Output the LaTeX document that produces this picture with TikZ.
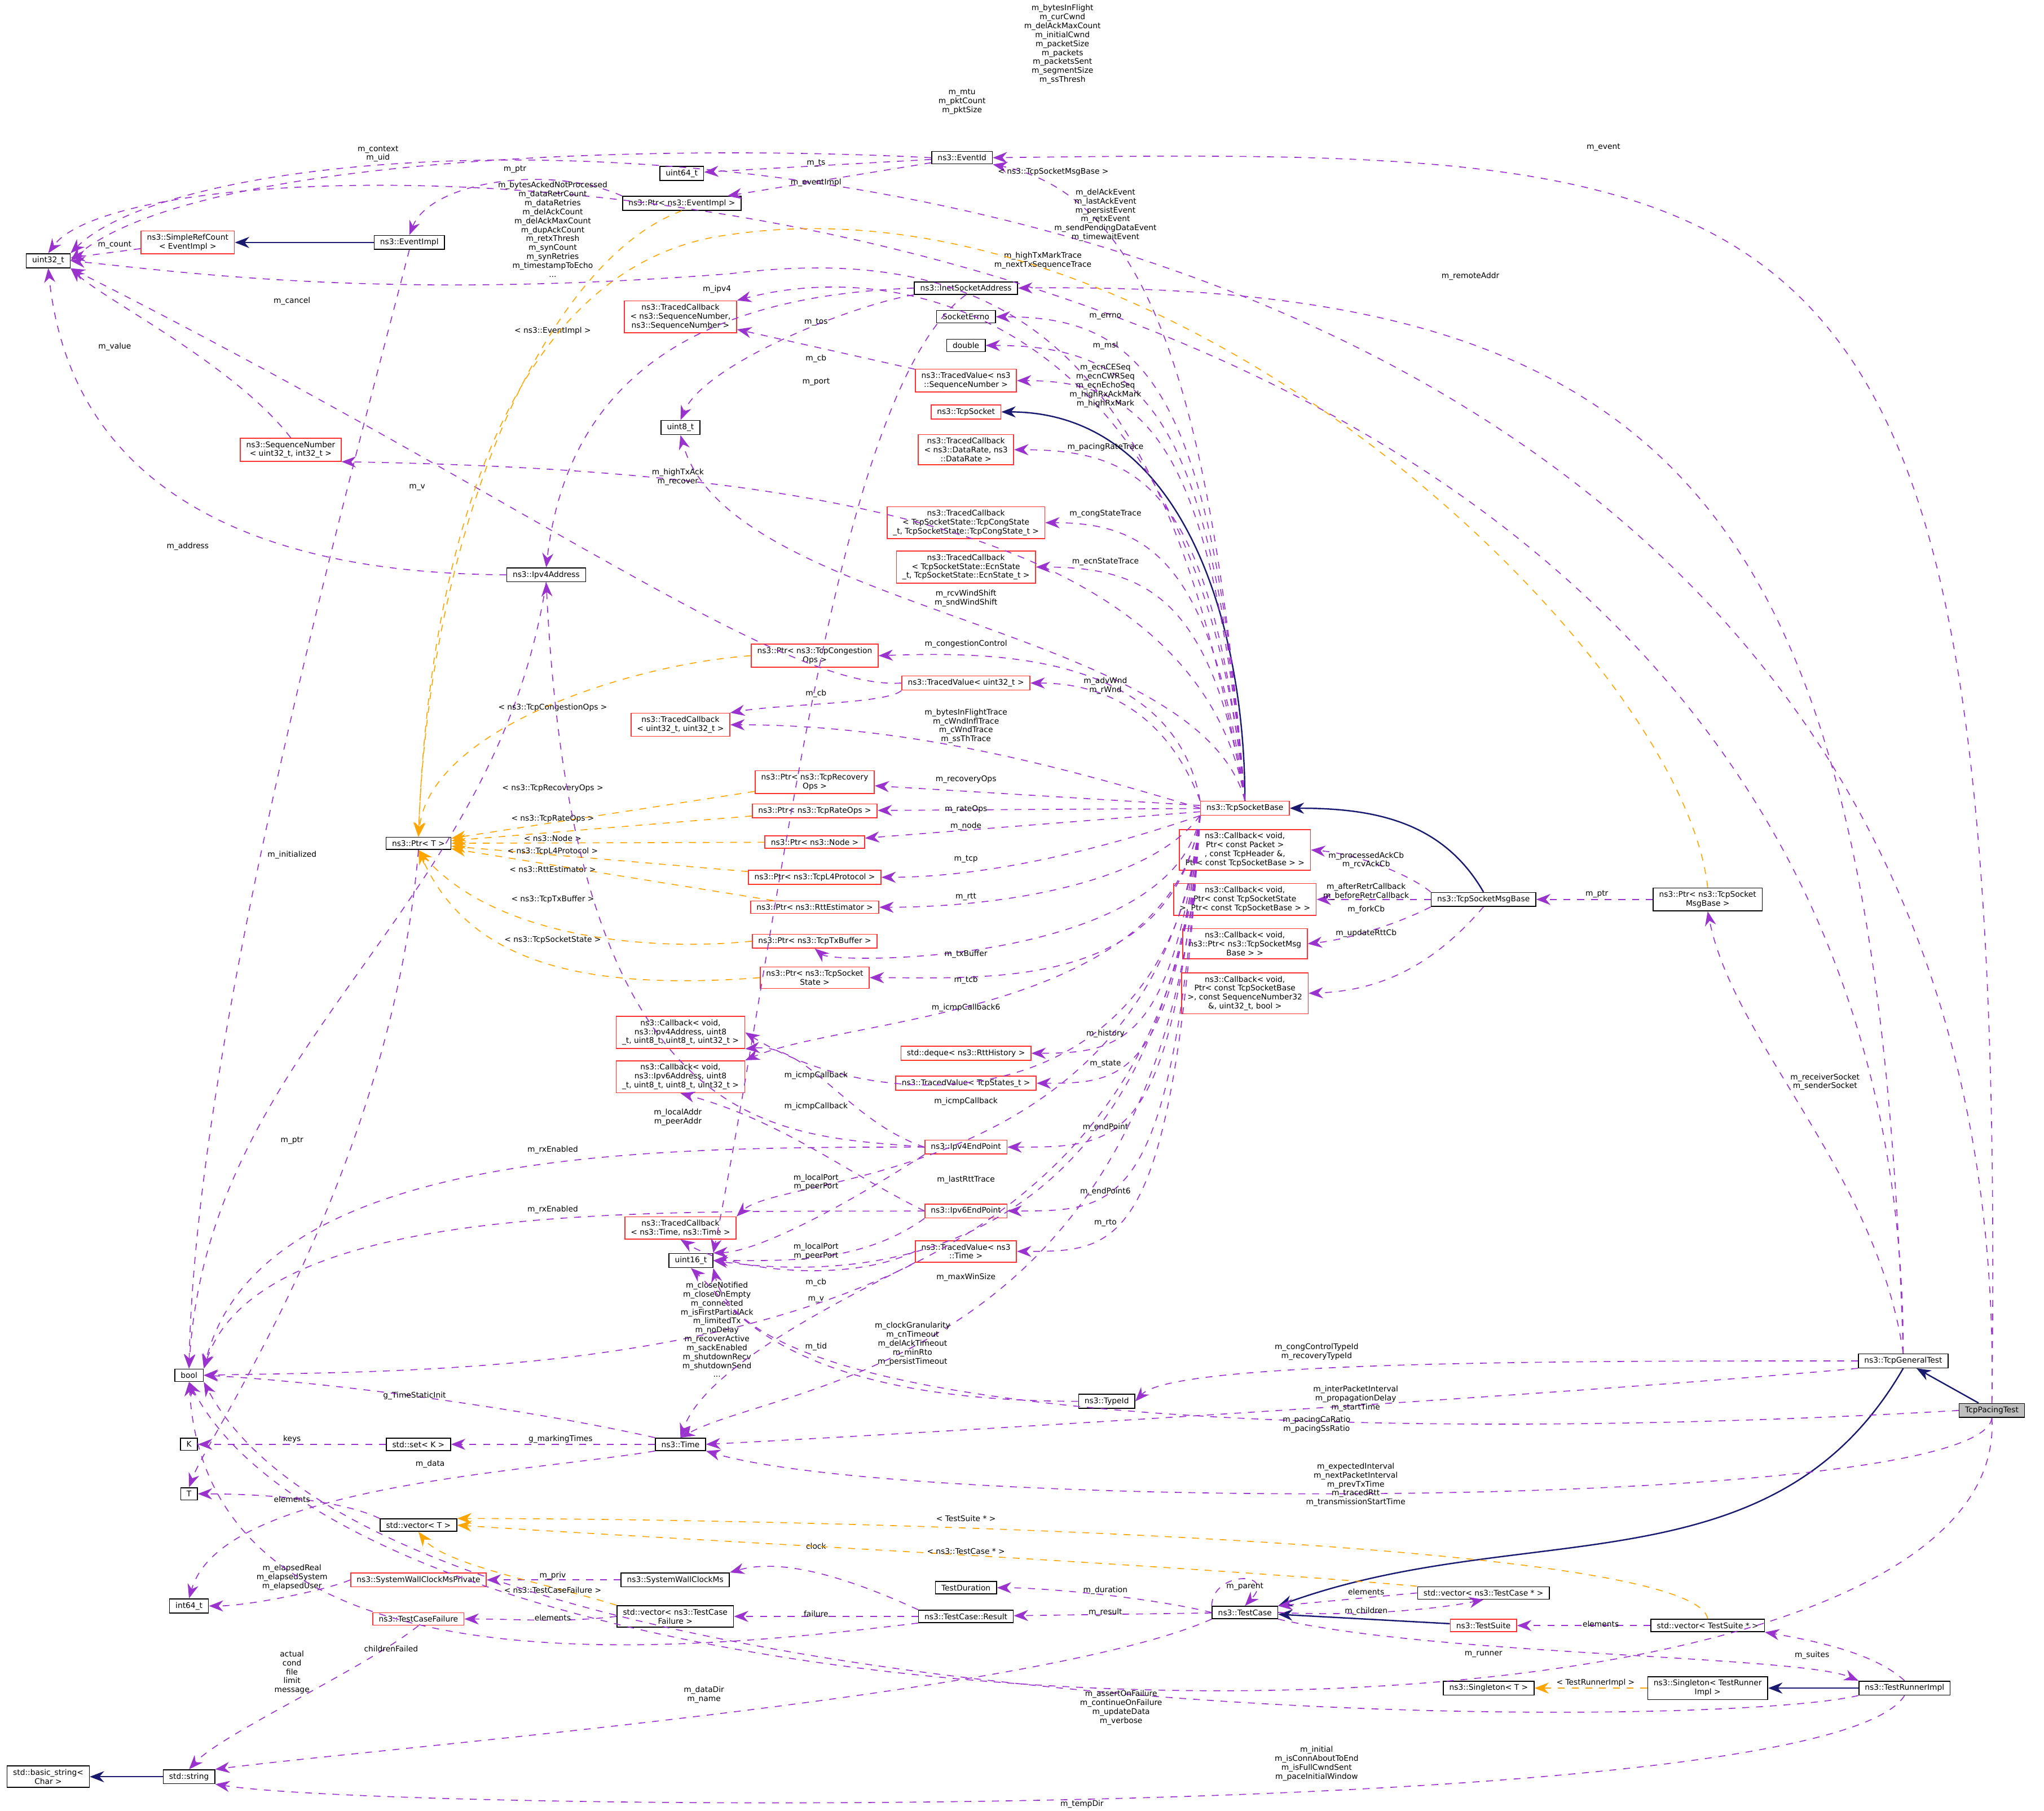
\documentclass[tikz,border=0pt]{standalone}
\usepackage{fontspec}
\setmainfont{DejaVu Sans}
\usetikzlibrary{arrows.meta,positioning}
\definecolor{memc}{HTML}{9A32CD}
\definecolor{tplc}{HTML}{FFA500}
\definecolor{inhc}{HTML}{191970}
\definecolor{redb}{HTML}{FF3030}
\tikzset{
  cls/.style={draw=black,fill=white,align=center,inner xsep=2.6pt,inner ysep=1.4pt,font=\fontsize{3.4}{3.9}\selectfont},
  clsr/.style={cls,draw=redb},
  lbl/.style={align=center,inner sep=0pt,font=\fontsize{3.4}{3.9}\selectfont},
  mem/.style={-{Stealth[length=2.2mm,width=1.7mm]},dashed,draw=memc,thin},
  tpl/.style={-{Stealth[length=2.2mm,width=1.7mm]},dashed,draw=tplc,thin},
  inh/.style={-{Stealth[length=2.2mm,width=1.7mm]},draw=inhc,semithick}
}
\begin{document}
\begin{tikzpicture}[x=0.02cm,y=-0.02cm]
\useasboundingbox (0,0) rectangle (1568,1389);

% left column
\node (uint32) [cls] at (37,200) {uint32\_t};
\node (srefc) [clsr] at (144,186) {ns3::SimpleRefCount\\< EventImpl >};
\node (eimpl) [cls] at (314,186) {ns3::EventImpl};
\node (seqn) [clsr] at (223,345) {ns3::SequenceNumber\\< uint32\_t, int32\_t >};
\node (ipv4a) [cls] at (419,441) {ns3::Ipv4Address};
\node (ptrt) [cls] at (321,647) {ns3::Ptr< T >};
\node (bool) [cls] at (145,1055) {bool};
\node (kk) [cls] at (145,1108) {K};
\node (setk) [cls] at (321,1108) {std::set< K >};
\node (tt) [cls] at (145,1146) {T};
\node (vect) [cls] at (321,1170) {std::vector< T >};
\node (int64) [cls] at (145,1232) {int64\_t};
\node (swcp) [clsr] at (321,1212) {ns3::SystemWallClockMsPrivate};
\node (tcf) [clsr] at (321,1242) {ns3::TestCaseFailure};
\node (bstr) [cls] at (37,1363) {std::basic\_string<\\Char >};
\node (str) [cls] at (145,1363) {std::string};

% middle columns
\node (uint64) [cls] at (523,133) {uint64\_t};
\node (eid) [cls] at (738,121) {ns3::EventId};
\node (ptrei) [cls] at (523,156) {ns3::Ptr< ns3::EventImpl >};
\node (inet) [cls] at (741,221) {ns3::InetSocketAddress};
\node (serr) [cls] at (741,243) {SocketErrno};
\node (dbl) [cls] at (741,265) {double};
\node (uint8) [cls] at (522,328) {uint8\_t};
\node (tsock) [clsr] at (741,316) {ns3::TcpSocket};
\node (tcbseq) [clsr] at (522,243) {ns3::TracedCallback\\< ns3::SequenceNumber,\\ns3::SequenceNumber >};
\node (tvseq) [clsr] at (741,292) {ns3::TracedValue< ns3\\::SequenceNumber >};
\node (tcbdr) [clsr] at (741,345) {ns3::TracedCallback\\< ns3::DataRate, ns3\\::DataRate >};
\node (tcbcs) [clsr] at (741,401) {ns3::TracedCallback\\< TcpSocketState::TcpCongState\\\_t, TcpSocketState::TcpCongState\_t >};
\node (tcbes) [clsr] at (741,435) {ns3::TracedCallback\\< TcpSocketState::EcnState\\\_t, TcpSocketState::EcnState\_t >};
\node (ptrcc) [clsr] at (625,503) {ns3::Ptr< ns3::TcpCongestion\\Ops >};
\node (tvu32) [clsr] at (741,524) {ns3::TracedValue< uint32\_t >};
\node (tcbu32) [clsr] at (522,556) {ns3::TracedCallback\\< uint32\_t, uint32\_t >};
\node (ptrrec) [clsr] at (625,600) {ns3::Ptr< ns3::TcpRecovery\\Ops >};
\node (ptrrate) [clsr] at (625,622) {ns3::Ptr< ns3::TcpRateOps >};
\node (ptrnode) [clsr] at (625,646) {ns3::Ptr< ns3::Node >};
\node (ptrl4) [clsr] at (625,673) {ns3::Ptr< ns3::TcpL4Protocol >};
\node (ptrrtt) [clsr] at (625,696) {ns3::Ptr< ns3::RttEstimator >};
\node (ptrtx) [clsr] at (625,722) {ns3::Ptr< ns3::TcpTxBuffer >};
\node (ptrtcb) [clsr] at (625,750) {ns3::Ptr< ns3::TcpSocket\\State >};
\node (cb4) [clsr] at (522,792) {ns3::Callback< void,\\ns3::Ipv4Address, uint8\\\_t, uint8\_t, uint8\_t, uint32\_t >};
\node (cb6) [clsr] at (522,826) {ns3::Callback< void,\\ns3::Ipv6Address, uint8\\\_t, uint8\_t, uint8\_t, uint32\_t >};
\node (rtth) [clsr] at (741,808) {std::deque< ns3::RttHistory >};
\node (tvst) [clsr] at (741,831) {ns3::TracedValue< TcpStates\_t >};
\node (ep4) [clsr] at (741,880) {ns3::Ipv4EndPoint};
\node (ep6) [clsr] at (741,929) {ns3::Ipv6EndPoint};
\node (tcbt) [clsr] at (522,942) {ns3::TracedCallback\\< ns3::Time, ns3::Time >};
\node (tvt) [clsr] at (741,960) {ns3::TracedValue< ns3\\::Time >};
\node (uint16) [cls] at (530,967) {uint16\_t};
\node (time) [cls] at (522,1108) {ns3::Time};
\node (tid) [cls] at (849,1075) {ns3::TypeId};
\node (swc) [cls] at (518,1212) {ns3::SystemWallClockMs};
\node (vtcf) [cls] at (518,1240) {std::vector< ns3::TestCase\\Failure >};
\node (tdur) [cls] at (741,1218) {TestDuration};
\node (tres) [cls] at (741,1240) {ns3::TestCase::Result};

% right part
\node (tsb) [clsr] at (955,620) {ns3::TcpSocketBase};
\node (cback) [clsr] at (955,652) {ns3::Callback< void,\\Ptr< const Packet >\\, const TcpHeader \&,\\Ptr< const TcpSocketBase > >};
\node (cbretr) [clsr] at (955,690) {ns3::Callback< void,\\Ptr< const TcpSocketState\\>, Ptr< const TcpSocketBase > >};
\node (cbfork) [clsr] at (955,724) {ns3::Callback< void,\\ns3::Ptr< ns3::TcpSocketMsg\\Base > >};
\node (cbrtt) [clsr] at (955,762) {ns3::Callback< void,\\Ptr< const TcpSocketBase\\>, const SequenceNumber32\\\&, uint32\_t, bool >};
\node (tsmb) [cls] at (1138,690) {ns3::TcpSocketMsgBase};
\node (ptsmb) [cls] at (1310,690) {ns3::Ptr< ns3::TcpSocket\\MsgBase >};
\node (tgt) [cls] at (1460,1044) {ns3::TcpGeneralTest};
\node (tpt) [cls,fill=gray!50] at (1528,1082) {TcpPacingTest};
\node (tc) [cls] at (955,1237) {ns3::TestCase};
\node (vtc) [cls] at (1138,1222) {std::vector< ns3::TestCase * >};
\node (tsuite) [clsr] at (1138,1247) {ns3::TestSuite};
\node (vts) [cls] at (1310,1247) {std::vector< TestSuite * >};
\node (sgt) [cls] at (1142,1295) {ns3::Singleton< T >};
\node (sgtr) [cls] at (1310,1295) {ns3::Singleton< TestRunner\\Impl >};
\node (tri) [cls] at (1461,1295) {ns3::TestRunnerImpl};

% inheritance
\draw[inh] (eimpl) -- (srefc);
\draw[inh] (str) -- (bstr);
\draw[inh] (tsb.north) to[out=90,in=0] (tsock.east);
\draw[inh] (tsmb.north) to[out=120,in=0] (tsb.east);
\draw[inh] (tpt) -- (tgt);
\draw[inh] (tgt.south) to[out=-120,in=20] (tc.north east);
\draw[inh] (tsuite) -- (tc);
\draw[inh] (tri) -- (sgtr);

% members
\draw[mem] (tpt.north) .. controls (1548,40) and (200,50) .. (uint32.north east);
\node[lbl] at (815,34) {m\_bytesInFlight\\m\_curCwnd\\m\_delAckMaxCount\\m\_initialCwnd\\m\_packetSize\\m\_packets\\m\_packetsSent\\m\_segmentSize\\m\_ssThresh};
\draw[mem] (tgt.north) .. controls (1460,90) and (120,80) .. (uint32.north);
\node[lbl] at (738,78) {m\_mtu\\m\_pktCount\\m\_pktSize};
\draw[mem] (tpt.north) .. controls (1540,120) and (1400,113) .. (eid.east);
\node[lbl] at (1230,113) {m\_event};
\draw[mem] (eid.west) .. controls (500,110) and (150,120) .. (uint32.east);
\node[lbl] at (290,118) {m\_context\\m\_uid};
\draw[mem] (eid) -- (uint64);
\node[lbl] at (626,125) {m\_ts};
\draw[mem] (eid) -- (ptrei);
\node[lbl] at (626,140) {m\_eventImpl};
\draw[mem] (ptrei.north west) .. controls (420,125) and (330,140) .. (eimpl.north);
\node[lbl] at (395,130) {m\_ptr};
\draw[mem] (srefc) -- (uint32);
\node[lbl] at (88,188) {m\_count};
\draw[mem] (eimpl.south) .. controls (260,400) and (150,800) .. (bool.north);
\node[lbl] at (224,231) {m\_cancel};
\draw[mem] (tsb.north) .. controls (900,300) and (800,180) .. (560,210) .. controls (300,230) and (150,210) .. (uint32.east);
\node[lbl] at (424,176) {m\_bytesAckedNotProcessed\\m\_dataRetrCount\\m\_dataRetries\\m\_delAckCount\\m\_delAckMaxCount\\m\_dupAckCount\\m\_retxThresh\\m\_synCount\\m\_synRetries\\m\_timestampToEcho\\...};
\draw[mem] (tsb.north) .. controls (930,300) and (880,150) .. (eid.south east);
\node[lbl] at (848,165) {m\_delAckEvent\\m\_lastAckEvent\\m\_persistEvent\\m\_retxEvent\\m\_sendPendingDataEvent\\m\_timewaitEvent};
\draw[mem] (tgt.north) .. controls (1440,400) and (1300,215) .. (inet.east);
\node[lbl] at (1128,212) {m\_remoteAddr};
\draw[mem] (tsb.north) .. controls (920,250) and (700,195) .. (tcbseq.north east);
\node[lbl] at (800,200) {m\_highTxMarkTrace\\m\_nextTxSequenceTrace};
\draw[mem] (tvseq) -- (tcbseq);
\node[lbl] at (626,275) {m\_cb};
\draw[mem] (inet.west) .. controls (600,225) and (440,250) .. (ipv4a.north);
\node[lbl] at (550,222) {m\_ipv4};
\draw[mem] (inet.south) .. controls (640,300) and (600,700) .. (uint16.north east);
\node[lbl] at (626,293) {m\_port};
\draw[mem] (inet.south west) .. controls (650,235) and (540,280) .. (uint8.north);
\node[lbl] at (626,247) {m\_tos};
\draw[mem] (tsb.north) .. controls (930,300) and (880,243) .. (serr.east);
\node[lbl] at (848,243) {m\_errno};
\draw[mem] (tsb.north) .. controls (930,320) and (880,265) .. (dbl.east);
\node[lbl] at (848,265) {m\_msl};
\draw[mem] (tsb.north) .. controls (930,340) and (880,292) .. (tvseq.east);
\node[lbl] at (848,296) {m\_ecnCESeq\\m\_ecnCWRSeq\\m\_ecnEchoSeq\\m\_highRxAckMark\\m\_highRxMark};
\draw[mem] (tsb.north) .. controls (930,380) and (880,345) .. (tcbdr.east);
\node[lbl] at (848,343) {m\_pacingRateTrace};
\draw[mem] (tsb.north) .. controls (920,400) and (600,360) .. (seqn.south east);
\node[lbl] at (520,366) {m\_highTxAck\\m\_recover};
\draw[mem] (seqn.north) .. controls (180,280) and (80,230) .. (uint32.south east);
\node[lbl] at (88,266) {m\_value};
\draw[mem] (tsb.north) .. controls (930,430) and (880,401) .. (tcbcs.east);
\node[lbl] at (848,394) {m\_congStateTrace};
\draw[mem] (tsb.north) .. controls (930,460) and (880,435) .. (tcbes.east);
\node[lbl] at (848,431) {m\_ecnStateTrace};
\draw[mem] (tsb.north) .. controls (920,480) and (560,470) .. (uint8.south);
\node[lbl] at (741,459) {m\_rcvWindShift\\m\_sndWindShift};
\draw[mem] (tvu32.west) .. controls (600,530) and (400,380) .. (uint32.south east);
\node[lbl] at (320,374) {m\_v};
\draw[mem] (ipv4a.west) .. controls (300,440) and (60,430) .. (uint32.south);
\node[lbl] at (144,419) {m\_address};
\draw[mem] (ipv4a.south) .. controls (380,700) and (160,800) .. (bool.north);
\node[lbl] at (224,656) {m\_initialized};
\draw[mem] (tsb.north west) .. controls (900,500) and (760,500) .. (ptrcc.east);
\node[lbl] at (741,494) {m\_congestionControl};
\draw[tpl] (ptrcc.west) .. controls (480,510) and (330,560) .. (ptrt.north);
\node[lbl] at (424,543) {< ns3::TcpCongestionOps >};
\draw[mem] (tsb.north west) .. controls (900,560) and (860,524) .. (tvu32.east);
\node[lbl] at (848,526) {m\_advWnd\\m\_rWnd};
\draw[mem] (tvu32.south west) .. controls (680,540) and (600,540) .. (tcbu32.north east);
\node[lbl] at (626,532) {m\_cb};
\draw[mem] (tsb.west) .. controls (820,590) and (700,556) .. (tcbu32.east);
\node[lbl] at (741,557) {m\_bytesInFlightTrace\\m\_cWndInflTrace\\m\_cWndTrace\\m\_ssThTrace};
\draw[tpl] (ptrei.south) .. controls (420,200) and (330,400) .. (ptrt.north);
\node[lbl] at (424,254) {< ns3::EventImpl >};
\draw[tpl] (ptsmb.north) .. controls (1290,500) and (900,130) .. (560,180) .. controls (400,200) and (330,400) .. (ptrt.north);
\node[lbl] at (808,132) {< ns3::TcpSocketMsgBase >};
\draw[tpl] (ptrrec) -- (ptrt);
\node[lbl] at (424,605) {< ns3::TcpRecoveryOps >};
\draw[tpl] (ptrrate) -- (ptrt);
\node[lbl] at (424,628) {< ns3::TcpRateOps >};
\draw[tpl] (ptrnode) -- (ptrt);
\node[lbl] at (424,643) {< ns3::Node >};
\draw[tpl] (ptrl4) -- (ptrt);
\node[lbl] at (424,653) {< ns3::TcpL4Protocol >};
\draw[tpl] (ptrrtt) -- (ptrt);
\node[lbl] at (424,667) {< ns3::RttEstimator >};
\draw[tpl] (ptrtx.west) .. controls (500,730) and (380,720) .. (ptrt.south);
\node[lbl] at (424,690) {< ns3::TcpTxBuffer >};
\draw[tpl] (ptrtcb.west) .. controls (450,760) and (360,740) .. (ptrt.south);
\node[lbl] at (424,721) {< ns3::TcpSocketState >};
\draw[mem] (tsb) -- (ptrrec);
\node[lbl] at (741,598) {m\_recoveryOps};
\draw[mem] (tsb) -- (ptrrate);
\node[lbl] at (741,621) {m\_rateOps};
\draw[mem] (tsb) -- (ptrnode);
\node[lbl] at (741,634) {m\_node};
\draw[mem] (tsb.south west) .. controls (850,650) and (760,673) .. (ptrl4.east);
\node[lbl] at (741,659) {m\_tcp};
\draw[mem] (tsb.south west) .. controls (880,680) and (760,696) .. (ptrrtt.east);
\node[lbl] at (741,688) {m\_rtt};
\draw[mem] (tsb.south west) .. controls (900,740) and (640,740) .. (ptrtx.south);
\node[lbl] at (741,732) {m\_txBuffer};
\draw[mem] (tsb.south west) .. controls (900,760) and (760,750) .. (ptrtcb.east);
\node[lbl] at (741,752) {m\_tcb};
\draw[mem] (tsb.south west) .. controls (900,780) and (650,780) .. (cb6.north east);
\node[lbl] at (741,773) {m\_icmpCallback6};
\draw[mem] (tsb.south west) .. controls (900,860) and (680,860) .. (cb4.east);
\node[lbl] at (741,845) {m\_icmpCallback};
\draw[mem] (tsb.south west) .. controls (900,800) and (860,808) .. (rtth.east);
\node[lbl] at (848,793) {m\_history};
\draw[mem] (tsb.south west) .. controls (900,830) and (860,831) .. (tvst.east);
\node[lbl] at (848,816) {m\_state};
\draw[mem] (tsb.south west) .. controls (900,880) and (860,880) .. (ep4.east);
\node[lbl] at (848,865) {m\_endPoint};
\draw[mem] (tsb.south west) .. controls (900,929) and (860,929) .. (ep6.east);
\node[lbl] at (848,914) {m\_endPoint6};
\draw[mem] (tsb.south west) .. controls (890,910) and (600,900) .. (tcbt.north east);
\node[lbl] at (741,905) {m\_lastRttTrace};
\draw[mem] (tsb.south west) .. controls (900,960) and (860,960) .. (tvt.east);
\node[lbl] at (848,938) {m\_rto};
\draw[mem] (tsb.south west) .. controls (890,990) and (640,980) .. (uint16.east);
\node[lbl] at (741,980) {m\_maxWinSize};
\draw[mem] (tsb.south west) .. controls (900,1060) and (400,1050) .. (bool.east);
\node[lbl] at (550,1020) {m\_closeNotified\\m\_closeOnEmpty\\m\_connected\\m\_isFirstPartialAck\\m\_limitedTx\\m\_noDelay\\m\_recoverActive\\m\_sackEnabled\\m\_shutdownRecv\\m\_shutdownSend\\...};
\draw[mem] (tsb.south west) .. controls (900,1050) and (600,1060) .. (time.north);
\node[lbl] at (700,1031) {m\_clockGranularity\\m\_cnTimeout\\m\_delAckTimeout\\m\_minRto\\m\_persistTimeout};
\draw[mem] (ep4.west) .. controls (650,860) and (620,800) .. (cb4.south east);
\node[lbl] at (626,825) {m\_icmpCallback};
\draw[mem] (ep4.west) .. controls (600,870) and (440,880) .. (ipv4a.south);
\node[lbl] at (520,857) {m\_localAddr\\m\_peerAddr};
\draw[mem] (ep4.west) .. controls (500,880) and (200,880) .. (bool.north east);
\node[lbl] at (424,882) {m\_rxEnabled};
\draw[mem] (ep4.south west) .. controls (640,930) and (580,960) .. (uint16.north east);
\node[lbl] at (626,907) {m\_localPort\\m\_peerPort};
\draw[mem] (ep6.west) .. controls (650,900) and (600,860) .. (cb6.south);
\node[lbl] at (626,849) {m\_icmpCallback};
\draw[mem] (ep6.west) .. controls (500,930) and (200,920) .. (bool.north east);
\node[lbl] at (424,928) {m\_rxEnabled};
\draw[mem] (ep6.south west) .. controls (660,970) and (600,967) .. (uint16.east);
\node[lbl] at (626,960) {m\_localPort\\m\_peerPort};
\draw[mem] (tvt.west) .. controls (650,985) and (560,975) .. (tcbt.south);
\node[lbl] at (626,984) {m\_cb};
\draw[mem] (tvt.south west) .. controls (640,1000) and (540,1050) .. (time.north);
\node[lbl] at (626,997) {m\_v};
\draw[mem] (tid.west) .. controls (600,1075) and (560,1000) .. (uint16.south);
\node[lbl] at (626,1033) {m\_tid};
\draw[mem] (time.north west) .. controls (400,1080) and (250,1060) .. (bool.east);
\node[lbl] at (318,1071) {g\_TimeStaticInit};
\draw[mem] (time) -- (setk);
\node[lbl] at (430,1104) {g\_markingTimes};
\draw[mem] (time.south west) .. controls (400,1130) and (170,1140) .. (int64.north);
\node[lbl] at (330,1123) {m\_data};
\draw[mem] (setk) -- (kk);
\node[lbl] at (224,1104) {keys};
\draw[mem] (vect.north west) .. controls (260,1150) and (200,1146) .. (tt.east);
\node[lbl] at (224,1150) {elements};
\draw[mem] (ptrt.south) .. controls (300,900) and (160,1100) .. (tt.north);
\node[lbl] at (224,875) {m\_ptr};
\draw[mem] (swcp.west) .. controls (250,1220) and (190,1232) .. (int64.east);
\node[lbl] at (224,1210) {m\_elapsedReal\\m\_elapsedSystem\\m\_elapsedUser};
\draw[mem] (swc) -- (swcp);
\node[lbl] at (424,1209) {m\_priv};
\draw[mem] (vtcf.west) .. controls (430,1245) and (400,1242) .. (tcf.east);
\node[lbl] at (424,1241) {elements};
\draw[tpl] (vtcf.north west) .. controls (420,1215) and (340,1200) .. (vect.south);
\node[lbl] at (424,1220) {< ns3::TestCaseFailure >};
\draw[mem] (tcf.south) .. controls (280,1280) and (170,1330) .. (str.north);
\node[lbl] at (224,1283) {actual\\cond\\file\\limit\\message};
\draw[mem] (tres.north west) .. controls (650,1210) and (600,1195) .. (swc.north east);
\node[lbl] at (626,1186) {clock};
\draw[mem] (tres) -- (vtcf);
\node[lbl] at (626,1238) {failure};
\draw[mem] (tres.south west) .. controls (500,1270) and (160,1300) .. (bool.south);
\node[lbl] at (300,1265) {childrenFailed};
\draw[mem] (tc.west) .. controls (880,1225) and (800,1218) .. (tdur.east);
\node[lbl] at (848,1220) {m\_duration};
\draw[mem] (tc) -- (tres);
\node[lbl] at (848,1237) {m\_result};
\draw[mem] (tc.north west) .. controls (930,1205) and (980,1205) .. (tc.north);
\node[lbl] at (955,1217) {m\_parent};
\draw[mem] (vtc.west) -- (tc.north east);
\node[lbl] at (1048,1221) {elements};
\draw[mem] (tc.east) .. controls (1040,1240) and (1100,1235) .. (vtc.south);
\node[lbl] at (1048,1236) {m\_children};
\draw[tpl] (vtc.north west) .. controls (900,1200) and (500,1180) .. (vect.east);
\node[lbl] at (741,1190) {< ns3::TestCase * >};
\draw[tpl] (vts.north) .. controls (1300,1180) and (600,1165) .. (vect.north east);
\node[lbl] at (741,1165) {< TestSuite * >};
\draw[mem] (vts) -- (tsuite);
\node[lbl] at (1228,1246) {elements};
\draw[mem] (tc.south east) .. controls (1100,1270) and (1380,1270) .. (tri.north west);
\node[lbl] at (1138,1269) {m\_runner};
\draw[mem] (tc.south west) .. controls (800,1300) and (300,1340) .. (str.north east);
\node[lbl] at (540,1300) {m\_dataDir\\m\_name};
\draw[mem] (tri.north) .. controls (1440,1270) and (1400,1260) .. (vts.south east);
\node[lbl] at (1390,1270) {m\_suites};
\draw[tpl] (sgtr) -- (sgt);
\node[lbl] at (1224,1291) {< TestRunnerImpl >};
\draw[mem] (tri.south west) .. controls (1300,1330) and (300,1330) .. (bool.south east);
\node[lbl] at (860,1310) {m\_assertOnFailure\\m\_continueOnFailure\\m\_updateData\\m\_verbose};
\draw[mem] (tri.south) .. controls (1400,1400) and (300,1390) .. (str.south east);
\node[lbl] at (830,1384) {m\_tempDir};
\draw[mem] (tpt.south) .. controls (1545,1380) and (300,1360) .. (bool.south);
\node[lbl] at (1010,1353) {m\_initial\\m\_isConnAboutToEnd\\m\_isFullCwndSent\\m\_paceInitialWindow};
\draw[mem] (tgt.west) .. controls (1200,1044) and (900,1044) .. (tid.east);
\node[lbl] at (1010,1037) {m\_congControlTypeId\\m\_recoveryTypeId};
\draw[mem] (tgt.south west) .. controls (1200,1070) and (700,1100) .. (time.east);
\node[lbl] at (1040,1073) {m\_interPacketInterval\\m\_propagationDelay\\m\_startTime};
\draw[mem] (tpt.west) .. controls (1200,1100) and (580,1110) .. (uint16.south east);
\node[lbl] at (1010,1093) {m\_pacingCaRatio\\m\_pacingSsRatio};
\draw[mem] (tpt.south) .. controls (1520,1160) and (700,1160) .. (time.south east);
\node[lbl] at (1040,1139) {m\_expectedInterval\\m\_nextPacketInterval\\m\_prevTxTime\\m\_tracedRtt\\m\_transmissionStartTime};
\draw[mem] (tgt.north) .. controls (1440,900) and (1330,800) .. (ptsmb.south);
\node[lbl] at (1400,830) {m\_receiverSocket\\m\_senderSocket};
\draw[mem] (ptsmb) -- (tsmb);
\node[lbl] at (1225,686) {m\_ptr};
\draw[mem] (tsmb.north west) .. controls (1080,670) and (1040,655) .. (cback.east);
\node[lbl] at (1048,660) {m\_processedAckCb\\m\_rcvAckCb};
\draw[mem] (tsmb) -- (cbretr);
\node[lbl] at (1048,684) {m\_afterRetrCallback\\m\_beforeRetrCallback};
\draw[mem] (tsmb.south west) .. controls (1080,705) and (1040,720) .. (cbfork.east);
\node[lbl] at (1048,698) {m\_forkCb};
\draw[mem] (tsmb.south) .. controls (1100,740) and (1060,760) .. (cbrtt.east);
\node[lbl] at (1048,716) {m\_updateRttCb};
\end{tikzpicture}
\end{document}
